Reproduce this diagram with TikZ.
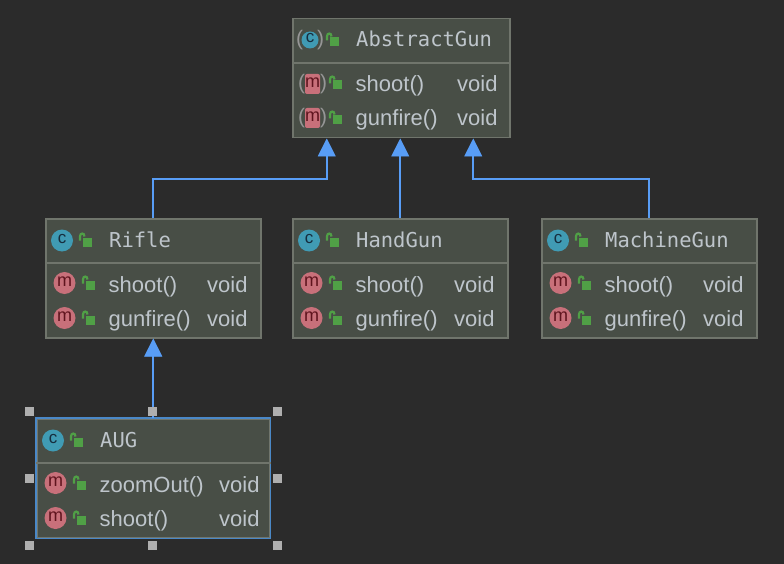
\documentclass[tikz,border=0pt]{standalone}
\usepackage{fontspec}
\setmainfont{Liberation Sans}
\newfontfamily\monof{DejaVu Sans Mono}
\usetikzlibrary{arrows.meta}
\definecolor{bg}{RGB}{43,43,43}
\definecolor{boxfill}{RGB}{72,78,70}
\definecolor{boxline}{RGB}{112,117,108}
\definecolor{txt}{RGB}{190,197,203}
\definecolor{arrowblue}{RGB}{88,157,246}
\definecolor{selblue}{RGB}{74,136,199}
\definecolor{cicon}{RGB}{64,155,180}
\definecolor{cletter}{RGB}{22,45,62}
\definecolor{micon}{RGB}{200,112,122}
\definecolor{mletter}{RGB}{95,20,30}
\definecolor{lockgreen}{RGB}{80,160,70}
\definecolor{handle}{RGB}{175,175,175}
\definecolor{paren}{RGB}{150,150,150}
\tikzset{
  box/.style={draw=boxline, fill=boxfill, line width=1.5pt, minimum height=119pt, inner sep=0pt},
  titletext/.style={text=txt, font=\monof\fontsize{20.5}{20.5}\selectfont, inner sep=0pt, anchor=base west},
  membertext/.style={text=txt, font=\fontsize{22}{22}\selectfont, inner sep=0pt, anchor=base west},
  inh/.style={draw=arrowblue, line width=2pt, -{Triangle[width=18pt,length=18pt,fill=arrowblue,line width=0.5pt]}},
  sepline/.style={draw=boxline, line width=1.5pt},
  lockbody/.style={fill=lockgreen},
  lockshackle/.style={draw=lockgreen, line width=2.2pt},
  cletterstyle/.style={text=cletter, font=\fontsize{17}{17}\selectfont, inner sep=0pt},
  mletterstyle/.style={text=mletter, font=\fontsize{18}{18}\selectfont, inner sep=0pt},
  parenstyle/.style={text=paren, font=\fontsize{21}{21}\selectfont, inner sep=0pt},
  handlebox/.style={fill=handle, draw=none, minimum size=9pt, inner sep=0pt},
}
% lock: #1 = left x of body, #2 = row centre y
\newcommand\lockicon[2]{%
  \fill[lockbody] (#1,#2-2.5) rectangle (#1+9,#2+6.5);
  \draw[lockshackle] (#1-3,#2+0.5) -- (#1-3,#2-3.5) .. controls (#1-3,#2-7.5) and (#1+1.5,#2-7.5) .. (#1+1.5,#2-3.5);
}
\newcommand\cicon[3]{%
  \fill[cicon] (#2,#3) circle (11);
  \node[cletterstyle] (#1) at (#2,#3-1.5) {c};
}
\newcommand\micon[3]{%
  \fill[micon] (#2,#3) circle (11);
  \node[mletterstyle] (#1) at (#2,#3-1.5) {m};
}
\newcommand\aicon[3]{%
  \fill[cicon] (#2,#3) circle (8.5);
  \node[cletterstyle] (#1) at (#2,#3-1.5) {c};
  \node[parenstyle] (#1-l) at (#2-10.5,#3) {(};
  \node[parenstyle] (#1-r) at (#2+10.5,#3) {)};
}
\newcommand\amicon[3]{%
  \fill[micon, rounded corners=2pt] (#2-7.5,#3-10) rectangle (#2+7.5,#3+10);
  \node[mletterstyle] (#1) at (#2,#3-1.5) {m};
  \node[parenstyle] (#1-l) at (#2-11,#3) {(};
  \node[parenstyle] (#1-r) at (#2+11,#3) {)};
}
% id, x, y, width, title, member1, member2, void offset
\newcommand\umlclass[8]{%
  \node[box, minimum width=#4pt, anchor=north west] (#1) at (#2,#3) {};
  \draw[sepline] ([yshift=-45pt]#1.north west) -- ([yshift=-45pt]#1.north east);
  \node[titletext] (#1-t) at (#2+64,#3+29) {#5};
  \node[membertext] (#1-a) at (#2+63.5,#3+74) {#6};
  \node[membertext] (#1-av) at (#2+#8,#3+74) {void};
  \node[membertext] (#1-b) at (#2+63.5,#3+108) {#7};
  \node[membertext] (#1-bv) at (#2+#8,#3+108) {void};
  \lockicon{#2+38}{#3+22}
  \lockicon{#2+41}{#3+65}
  \lockicon{#2+41}{#3+100}
}
\begin{document}
\begin{tikzpicture}[x=1pt,y=-1pt]
\fill[bg] (0,0) rectangle (784,564);
\useasboundingbox (0,0) rectangle (784,564);

\umlclass{abs}{292}{18}{217}{AbstractGun}{shoot()}{gunfire()}{165}
\aicon{absc}{310}{40}
\amicon{absm1}{312.5}{84}
\amicon{absm2}{312.5}{118}

\umlclass{rifle}{45}{218}{215}{Rifle}{shoot()}{gunfire()}{162}
\cicon{riflec}{62}{240.5}
\micon{riflem1}{64.5}{283}
\micon{riflem2}{64.5}{318}

\umlclass{hand}{292}{218}{215}{HandGun}{shoot()}{gunfire()}{162}
\cicon{handc}{309}{240.5}
\micon{handm1}{311.5}{283}
\micon{handm2}{311.5}{318}

\umlclass{mach}{541}{218}{215}{MachineGun}{shoot()}{gunfire()}{162}
\cicon{machc}{558}{240.5}
\micon{machm1}{560.5}{283}
\micon{machm2}{560.5}{318}

\umlclass{aug}{36}{418}{233}{AUG}{zoomOut()}{shoot()}{183}
\draw[draw=selblue, line width=1.5pt] (aug.north west) rectangle (aug.south east);
\draw[sepline] ([yshift=-45pt]aug.north west) -- ([yshift=-45pt]aug.north east);
\cicon{augc}{53}{440.5}
\micon{augm1}{55.5}{483}
\micon{augm2}{55.5}{518}

% connectors
\coordinate (absL) at ([xshift=-74.5pt]abs.south);
\coordinate (absR) at ([xshift=72pt]abs.south);
\draw[inh] (rifle.north) |- ([yshift=-41pt]absL) -- (absL);
\draw[inh] (hand.north) -- (hand.north |- abs.south);
\draw[inh] (mach.north) |- ([yshift=-41pt]absR) -- (absR);
\draw[inh] (aug.north) -- (rifle.south);

% selection handles
\node[handlebox] (h1) at (29,411) {};
\node[handlebox] (h2) at (152.5,411) {};
\node[handlebox] (h3) at (277,411) {};
\node[handlebox] (h4) at (29,478) {};
\node[handlebox] (h5) at (277,478) {};
\node[handlebox] (h6) at (29,545) {};
\node[handlebox] (h7) at (152.5,545) {};
\node[handlebox] (h8) at (277,545) {};
\end{tikzpicture}
\end{document}
